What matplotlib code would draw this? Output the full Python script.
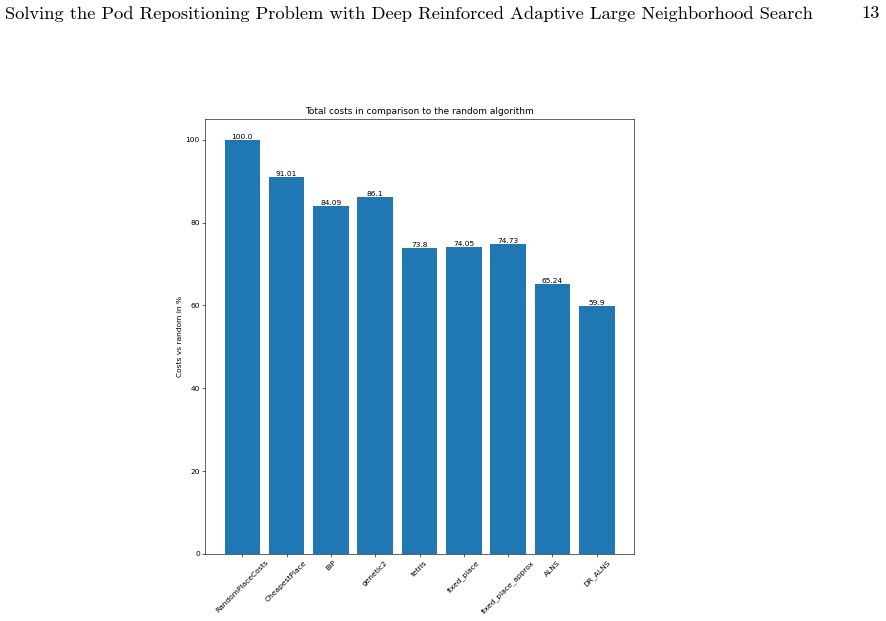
import matplotlib.pyplot as plt

# Values
algorithms = ['RandomPlaceCosts', 'CheapestPlace', 'BIP', 'genetic2', 'tetris',
              'fixed_place', 'fixed_place_approx', 'ALNS', 'DR_ALNS']
costs_pct = [100.0, 91.01, 84.09, 86.1, 73.8, 74.05, 74.73, 65.24, 59.9]

page_header = "Solving the Pod Repositioning Problem with Deep Reinforced Adaptive Large Neighborhood Search"
page_number = "13"

# the chart is a shrunk default matplotlib figure, so scale the defaults down
s = 0.54
plt.rcParams.update({
    'font.size': 10 * s,
    'axes.titlesize': 12 * s,
    'axes.titlepad': 6 * s,
    'axes.labelpad': 4 * s,
    'axes.linewidth': 0.8 * s,
    'xtick.major.size': 3.5 * s,
    'ytick.major.size': 3.5 * s,
    'xtick.major.width': 0.8 * s,
    'ytick.major.width': 0.8 * s,
    'xtick.major.pad': 3.5 * s,
    'ytick.major.pad': 3.5 * s,
})

fig = plt.figure(figsize=(8.86, 6.21), dpi=100)
ax = fig.add_axes([0.2314, 0.1079, 0.4842, 0.7005])

bars = ax.bar(algorithms, costs_pct, color='#1f77b4')
ax.bar_label(bars, labels=[str(v) for v in costs_pct])

ax.set_title("Total costs in comparison to the random algorithm")
ax.set_ylabel("Costs vs random in %")
plt.setp(ax.get_xticklabels(), rotation=45)

# page header of the paper
fig.text(0.006, 0.978, page_header, family='cmr10', fontsize=13.3, va='center', ha='left')
fig.text(0.993, 0.978, page_number, family='cmr10', fontsize=13.3, va='center', ha='right')

fig.savefig('out.png', dpi=100)
